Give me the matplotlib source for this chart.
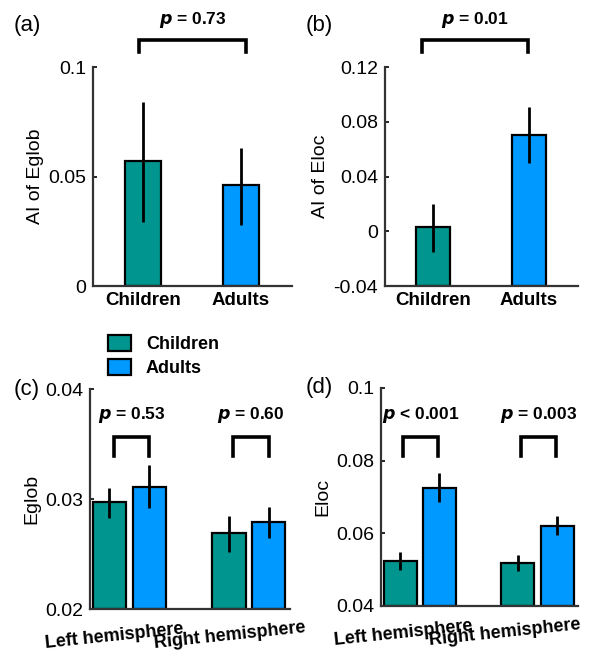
import matplotlib
matplotlib.use("Agg")
import matplotlib.pyplot as plt
from matplotlib.transforms import ScaledTranslation

plt.rcParams['font.family'] = ['Liberation Sans', 'DejaVu Sans']

# --- data -------------------------------------------------------------
groups = ["Children", "Adults"]
hemis = ["Left hemisphere", "Right hemisphere"]

# (a) AI of Eglob
ai_eglob = [0.057, 0.046]
ai_eglob_lo = [0.029, 0.028]
ai_eglob_hi = [0.084, 0.063]
# (b) AI of Eloc
ai_eloc = [0.003, 0.070]
ai_eloc_lo = [-0.015, 0.050]
ai_eloc_hi = [0.020, 0.091]
# (c) Eglob per hemisphere  [left, right]
eglob_child = [0.0297, 0.0269]
eglob_child_lo = [0.0283, 0.0252]
eglob_child_hi = [0.0310, 0.0285]
eglob_adult = [0.0311, 0.0279]
eglob_adult_lo = [0.0292, 0.0265]
eglob_adult_hi = [0.0331, 0.0293]
# (d) Eloc per hemisphere
eloc_child = [0.0524, 0.0518]
eloc_child_lo = [0.0500, 0.0497]
eloc_child_hi = [0.0549, 0.0540]
eloc_adult = [0.0725, 0.0621]
eloc_adult_lo = [0.0686, 0.0595]
eloc_adult_hi = [0.0766, 0.0648]

p_a = "= 0.73"
p_b = "= 0.01"
p_c = ["= 0.53", "= 0.60"]
p_d = ["< 0.001", "= 0.003"]

teal = "#00968f"
blue = "#0099ff"
colors = [teal, blue]

TICK_FS = 14
fig = plt.figure(figsize=(5.95, 6.56), dpi=100)


def style(ax, ylim, yticks, yticklabels, ylabel):
    ax.set_ylim(*ylim)
    ax.set_yticks(yticks)
    ax.set_yticklabels(yticklabels, fontsize=TICK_FS)
    for s in ["top", "right"]:
        ax.spines[s].set_visible(False)
    for s in ["left", "bottom"]:
        ax.spines[s].set_linewidth(1.6)
        ax.spines[s].set_color("#333333")
    ax.tick_params(axis="y", direction="in", length=3, width=1.2, pad=5)
    ax.tick_params(axis="x", length=0, pad=4)
    ax.set_ylabel(ylabel, fontsize=14, labelpad=3)


def bracket(ax, x0, x1, ytop, ybot, label, ytext):
    ax.plot([x0, x0, x1, x1], [ybot, ytop, ytop, ybot], color="black",
            lw=2.6, clip_on=False, solid_joinstyle="miter")
    ax.text((x0 + x1) / 2, ytext, r"$\boldsymbol{p}$ " + label, ha="center",
            va="center", fontsize=12.5, fontweight="bold", clip_on=False)


def err(lo, hi, v):
    return [[v_ - l for v_, l in zip(v, lo)], [h - v_ for v_, h in zip(v, hi)]]


ekw = dict(ecolor="black", elinewidth=2, capsize=0)

# (a)
ax = fig.add_axes([93/595, 1 - 286/656, 199/595, 219/656])
xs = [1, 2]
ax.bar(xs, ai_eglob, width=0.37, color=colors, edgecolor="black", lw=1.6,
       yerr=err(ai_eglob_lo, ai_eglob_hi, ai_eglob), error_kw=ekw)
ax.set_xlim(0.49, 2.52)
style(ax, (0, 0.1), [0, 0.05, 0.1], ["0", "0.05", "0.1"], "AI of Eglob")
ax.set_xticks(xs)
ax.set_xticklabels(groups, fontsize=13.5, fontweight="bold")
bracket(ax, 0.96, 2.05, 0.1123, 0.1068, p_a, 0.1215)
fig.text(14/595, 1 - 25/656, "(a)", fontsize=16, va="center", ha="left")

# (b) bars drawn up from the bottom of the axis
ax = fig.add_axes([385/595, 1 - 286/656, 193/595, 219/656])
base_b = -0.04
ax.bar(xs, [v - base_b for v in ai_eloc], bottom=base_b, width=0.355,
       color=colors, edgecolor="black", lw=1.6,
       yerr=err(ai_eloc_lo, ai_eloc_hi, ai_eloc), error_kw=ekw)
ax.set_xlim(0.5, 2.51)
style(ax, (-0.04, 0.12), [-0.04, 0, 0.04, 0.08, 0.12],
      ["-0.04", "0", "0.04", "0.08", "0.12"], "AI of Eloc")
ax.set_xticks(xs)
ax.set_xticklabels(groups, fontsize=13.5, fontweight="bold")
bracket(ax, 0.89, 1.99, 0.1397, 0.131, p_b, 0.154)
fig.text(306/595, 1 - 25/656, "(b)", fontsize=16, va="center", ha="left")

# (c) and (d)
gx = [1, 2]
off = 0.167
bw = 0.28


def hemi_panel(rect, child, clo, chi, adult, alo, ahi, ylim, yticks, ylabels,
               ylabel, ptexts, btop, bbot, ptext_y, bx, shifts):
    ax = fig.add_axes(rect)
    base = ylim[0]
    ax.bar([g - off for g in gx], [v - base for v in child], bottom=base,
           width=bw, color=teal, edgecolor="black", lw=1.6,
           yerr=err(clo, chi, child), error_kw=ekw, label=groups[0])
    ax.bar([g + off for g in gx], [v - base for v in adult], bottom=base,
           width=bw, color=blue, edgecolor="black", lw=1.6,
           yerr=err(alo, ahi, adult), error_kw=ekw, label=groups[1])
    ax.set_xlim(0.67, 2.345)
    style(ax, ylim, yticks, ylabels, ylabel)
    ax.set_xticks(gx)
    ax.set_xticklabels(hemis, fontsize=13, fontweight="bold", rotation=6,
                       ha="center", va="center")
    ax.tick_params(axis="x", pad=19.5)
    # labels sit a little left of the group centres, as in the original
    for lab, dx in zip(ax.get_xticklabels(), shifts):
        lab.set_transform(lab.get_transform() +
                          ScaledTranslation(dx / 100, 0, fig.dpi_scale_trans))
    for g, pt in zip(gx, ptexts):
        bracket(ax, g + bx[0], g + bx[1], btop, bbot, pt, ptext_y)
    return ax


axc = hemi_panel([90/595, 1 - 609/656, 200/595, 220/656],
                 eglob_child, eglob_child_lo, eglob_child_hi,
                 eglob_adult, eglob_adult_lo, eglob_adult_hi,
                 (0.02, 0.04), [0.02, 0.03, 0.04], ["0.02", "0.03", "0.04"],
                 "Eglob", p_c, 0.0356, 0.0339, 0.0376, (-0.13, 0.165),
                 (-15, -19))
fig.text(14/595, 1 - 390/656, "(c)", fontsize=16, va="center", ha="left")

hemi_panel([381/595, 1 - 606/656, 197/595, 218/656],
           eloc_child, eloc_child_lo, eloc_child_hi,
           eloc_adult, eloc_adult_lo, eloc_adult_hi,
           (0.04, 0.1), [0.04, 0.06, 0.08, 0.1], ["0.04", "0.06", "0.08", "0.1"],
           "Eloc", p_d, 0.0865, 0.0813, 0.0926, (-0.14, 0.155),
           (-17, -33))
fig.text(306/595, 1 - 388/656, "(d)", fontsize=16, va="center", ha="left")

handles, labels = axc.get_legend_handles_labels()
fig.legend(handles, labels, loc="upper left",
           bbox_to_anchor=(99/595, 1 - 326/656), frameon=False, borderpad=0,
           handlelength=1.25, handleheight=1.0, handletextpad=0.85,
           labelspacing=0.3, prop=dict(size=13, weight="bold"))

fig.savefig("out.png", dpi=100)
